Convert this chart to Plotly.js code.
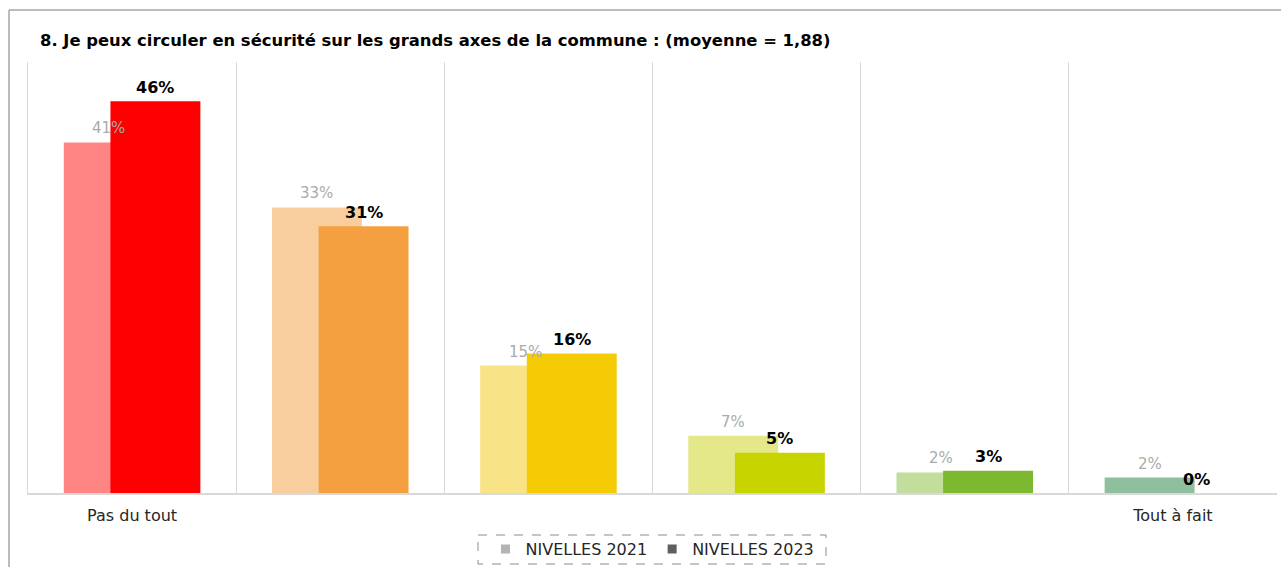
<!DOCTYPE html>
<html>
<head>
<meta charset="utf-8">
<script src="https://cdn.plot.ly/plotly-3.0.1.min.js"></script>
<style>html,body{margin:0;padding:0;background:#fff;}#chart{width:1281px;height:567px;}</style>
</head>
<body>
<div id="chart"></div>
<script>
const categories = ['Pas du tout', '2', '3', '4', '5', 'Tout à fait'];
const tickLabels = ['Pas du tout', '', '', '', '', 'Tout à fait'];
const values2021 = [41.0, 33.4, 14.9, 6.7, 2.4, 1.8];
const values2023 = [45.8, 31.2, 16.3, 4.7, 2.6, 0];
const colors2021 = ['#FF8585', '#F8CE9E', '#F9E387', '#E4E888', '#C1DE9C', '#8FBF9C'];
const colors2023 = ['#FF0000', '#F4A040', '#F5CB05', '#C8D400', '#7DB831', '#3E8E5A'];
const seriesNames = ['NIVELLES 2021', 'NIVELLES 2023'];
const legendColors = ['#B4B4B4', '#5F5F5F'];

const W = 0.432, SH = 0.112;
const FONT = 'DejaVu Sans, Verdana, sans-serif';

const traces = [
  {type: 'bar', x: categories, y: values2021, width: W, offset: -SH - W / 2,
   marker: {color: colors2021}, showlegend: false, hoverinfo: 'x+y'},
  {type: 'bar', x: categories, y: values2023, width: W, offset: SH - W / 2,
   marker: {color: colors2023}, showlegend: false, hoverinfo: 'x+y'},
  {type: 'scatter', mode: 'markers', x: [null], y: [null], name: seriesNames[0],
   marker: {symbol: 'square', size: 9, color: legendColors[0]}},
  {type: 'scatter', mode: 'markers', x: [null], y: [null], name: seriesNames[1],
   marker: {symbol: 'square', size: 9, color: legendColors[1]}}
];

const annotations = [];
values2021.forEach((v, i) => annotations.push({
  x: i - SH, y: v, xref: 'x', yref: 'y', text: Math.round(v) + '%', showarrow: false,
  yanchor: 'middle', yshift: 14, font: {family: FONT, size: 15, color: '#ABABAB'}
}));
values2023.forEach((v, i) => annotations.push({
  x: i + SH, y: v, xref: 'x', yref: 'y', text: '<b>' + Math.round(v) + '%</b>', showarrow: false,
  yanchor: 'middle', yshift: 14, font: {family: FONT, size: 16, color: '#000000'}
}));

const PB = 493, PH = 431;
const layout = {
  width: 1281, height: 567,
  margin: {l: 28, r: 4, t: 62, b: 74, autoexpand: false},
  paper_bgcolor: '#ffffff', plot_bgcolor: '#ffffff',
  barmode: 'overlay',
  font: {family: FONT, color: '#262626'},
  title: {
    text: '<b>8. Je peux circuler en sécurité sur les grands axes de la commune : (moyenne = 1,88)</b>',
    x: 40 / 1281, xref: 'container', xanchor: 'left',
    y: 1 - 40 / 567, yref: 'container', yanchor: 'middle',
    font: {family: FONT, size: 16.4, color: '#000000'}
  },
  xaxis: {
    type: 'category', tickvals: categories, ticktext: tickLabels,
    tickson: 'boundaries', ticks: '', showgrid: true, gridcolor: '#D9D9D9', gridwidth: 1,
    showline: true, linecolor: '#D9D9D9', linewidth: 2,
    tickfont: {family: FONT, size: 16, color: '#262626'}, ticklabelstandoff: 7,
    range: [-0.5, 5.5], fixedrange: true, automargin: false
  },
  yaxis: {
    range: [0, 50.4], showgrid: false, zeroline: false, showticklabels: false, ticks: '',
    showline: true, linecolor: '#D9D9D9', linewidth: 1, fixedrange: true, automargin: false
  },
  showlegend: true,
  legend: {
    orientation: 'h', x: 0.5, xanchor: 'center', y: (PB - 549) / PH, yanchor: 'middle',
    font: {family: FONT, size: 16, color: '#262626'}, itemwidth: 30, bgcolor: 'rgba(0,0,0,0)'
  },
  annotations: annotations,
  shapes: [
    {type: 'rect', xref: 'paper', yref: 'paper', x0: (478 - 28) / 1249, x1: (826 - 28) / 1249,
     y0: (PB - 535) / PH, y1: (PB - 564) / PH,
     line: {color: '#8C8C8C', width: 1, dash: 'dash'}},
    {type: 'line', xref: 'paper', yref: 'paper', x0: (9 - 28) / 1249, x1: (1281 - 28) / 1249,
     y0: (PB - 10) / PH, y1: (PB - 10) / PH, line: {color: '#A6A6A6', width: 1.5}},
    {type: 'line', xref: 'paper', yref: 'paper', x0: (9 - 28) / 1249, x1: (9 - 28) / 1249,
     y0: (PB - 10) / PH, y1: (PB - 567) / PH, line: {color: '#A6A6A6', width: 1.5}}
  ]
};

Plotly.newPlot('chart', traces, layout, {displayModeBar: false, staticPlot: true});
</script>
</body>
</html>
